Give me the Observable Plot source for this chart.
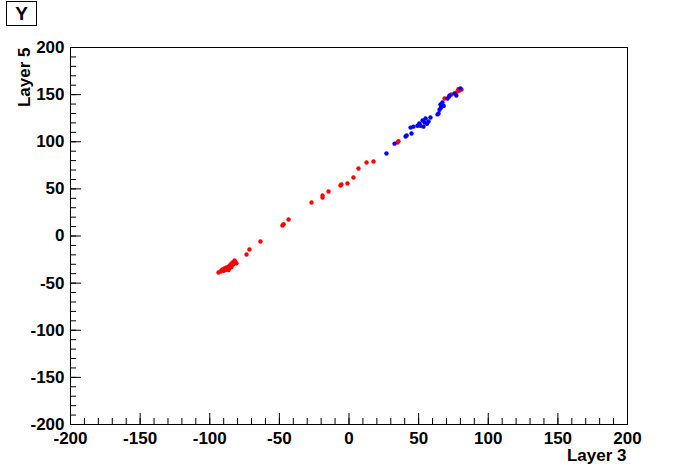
<!DOCTYPE html>
<html>
<head>
<meta charset="utf-8">
<script src="https://cdn.jsdelivr.net/npm/d3@7"></script>
<script src="https://cdn.jsdelivr.net/npm/@observablehq/plot@0.6"></script>
<style>
  html, body { margin: 0; padding: 0; background: #fff; }
  #wrap { position: relative; width: 696px; height: 472px; font-family: "Liberation Sans", Arial, sans-serif; }
  #title { position: absolute; left: 6px; top: 1px; width: 29px; height: 23px; border: 1px solid #000;
           font-weight: bold; font-size: 19px; line-height: 23px; text-align: center; background: #fff; }
</style>
</head>
<body>
<div id="wrap"><div id="title">Y</div></div>
<script>
// Data (Layer 3 vs Layer 5)
const redX = [-93.7,-92.3,-91.5,-90.8,-90.0,-89.4,-88.7,-88.0,-87.2,-86.5,-85.8,-85.1,-84.4,-83.7,-83.0,-82.2,-81.5,-80.8,-86.5,-84.4,
              -73.6,-71.5,-63.6,-47.8,-47.0,-43.4,-26.9,-19.0,-19.0,-14.7,-6.1,-5.4,-1.1,3.2,6.8,12.6,17.6,34.8,35.5,
              68.6,73.6,77.9,79.3,80.8,78.5,72.0];
const redY = [-38.7,-37.6,-36.6,-35.5,-37.0,-34.5,-36.0,-33.4,-35.0,-32.4,-34.2,-30.2,-31.5,-28.1,-30.0,-26.0,-27.5,-29.0,-36.0,-33.0,
              -19.6,-14.3,-5.8,11.1,12.5,17.5,35.5,40.8,43.0,47.2,53.6,54.6,55.7,62.0,71.6,78.0,79.0,99.2,100.5,
              145.9,150.1,153.3,154.4,155.5,155.8,148.0];
const blueX = [26.9,32.7,40.6,41.4,44.9,44.2,46.3,49.2,51.3,53.5,52.8,55.0,57.1,58.5,56.0,50.5,54.3,63.6,64.3,65.0,65.7,67.1,
               70.7,72.2,75.8,77.1,80.0,66.0,68.0];
const blueY = [87.5,98.0,105.6,106.7,108.8,115.0,116.0,117.0,117.0,116.0,122.5,124.6,121.5,125.7,119.0,119.5,120.5,129.0,130.0,134.0,139.5,141.6,
               145.9,149.0,151.2,149.0,156.6,136.0,138.0];
const majorTicks = [-200,-150,-100,-50,0,50,100,150,200];
const minorTicks = d3.range(-200, 201, 10);
const xLabel = "Layer 3";
const yLabel = "Layer 5";

const red = redX.map((x, i) => ({x, y: redY[i]}));
const blue = blueX.map((x, i) => ({x, y: blueY[i]}));

const fmt = d => String(d);
const font = "Liberation Sans, Arial, sans-serif";
const chart = Plot.plot({
  width: 696,
  height: 472,
  marginLeft: 70,
  marginRight: 69,
  marginTop: 47,
  marginBottom: 48,
  style: {fontFamily: font, fontWeight: "bold", fontSize: "17px", background: "transparent", color: "#000"},
  x: {domain: [-200, 200], label: null},
  y: {domain: [-200, 200], label: null},
  marks: [
    Plot.axisX({ticks: majorTicks, tickFormat: fmt, tickSize: 0, tickPadding: 7, fontSize: 17, fontWeight: "bold", label: null}),
    Plot.axisX({ticks: majorTicks, tickSize: -11, text: null, label: null}),
    Plot.axisX({ticks: minorTicks, tickSize: -6, text: null, label: null}),
    Plot.axisY({ticks: majorTicks, tickFormat: fmt, tickSize: 0, tickPadding: 6, fontSize: 17, fontWeight: "bold", label: null}),
    Plot.axisY({ticks: majorTicks, tickSize: -11, text: null, label: null}),
    Plot.axisY({ticks: minorTicks, tickSize: -6, text: null, label: null}),
    Plot.frame({stroke: "#000"}),
    Plot.dot(red, {x: "x", y: "y", r: 2.2, fill: "#ff0000", stroke: null}),
    Plot.dot(blue, {x: "x", y: "y", r: 2.2, fill: "#0000ff", stroke: null}),
    Plot.text([xLabel], {frameAnchor: "bottom-right", text: d => d, textAnchor: "end", dy: 36, dx: -1, fontSize: 17, fontWeight: "bold"}),
    Plot.text([yLabel], {frameAnchor: "top-left", text: d => d, textAnchor: "end", lineAnchor: "top", rotate: -90, dx: -53, dy: 0, fontSize: 17, fontWeight: "bold"})
  ]
});
document.getElementById("wrap").appendChild(chart);
</script>
</body>
</html>
